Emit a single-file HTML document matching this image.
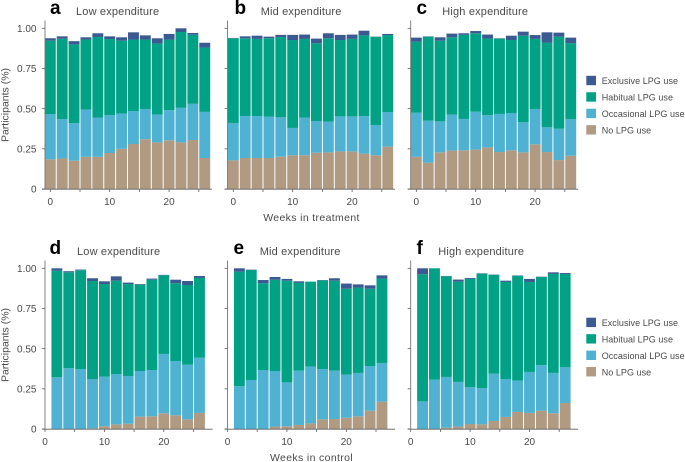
<!DOCTYPE html>
<html lang="en">
<head>
<meta charset="utf-8">
<title>LPG use by expenditure group</title>
<style>
html,body{margin:0;padding:0;background:#fff;width:685px;height:462px;overflow:hidden}
svg{display:block}
text{font-family:"Liberation Sans",sans-serif;fill:#4a4a4a}
</style>
</head>
<body>
<svg id="chart" width="685" height="462" viewBox="0 0 685 462" xmlns="http://www.w3.org/2000/svg"></svg>
<script>
const yTicks = [0, 0.25, 0.5, 0.75, 1];
const yTickLabels = ['0', '0.25', '0.50', '0.75', '1.00'];
const xTicks = [0, 5, 10, 15, 20, 25];
const xTickLabels = [0, 10, 20];
const seriesNames = ['No LPG use', 'Occasional LPG use', 'Habitual LPG use', 'Exclusive LPG use'];
const legendOrder = ['Exclusive LPG use', 'Habitual LPG use', 'Occasional LPG use', 'No LPG use'];

const treatmentWeeks = [0, 2, 4, 6, 8, 10, 12, 14, 16, 18, 20, 22, 24, 26];
const controlWeeks = [2, 4, 6, 8, 10, 12, 14, 16, 18, 20, 22, 24, 26];

const aNone = [.185,.19,.176,.2,.2,.224,.25,.28,.31,.29,.303,.29,.305,.193];
const aOccasional = [.28,.245,.234,.295,.245,.236,.22,.205,.188,.173,.187,.215,.225,.287];
const aHabitual = [.458,.5,.49,.435,.501,.473,.453,.445,.432,.443,.44,.472,.43,.4];
const aExclusive = [.015,.015,.02,.014,.023,.017,.021,.045,.026,.032,.035,.023,.011,.03];

const bNone = [.178,.193,.193,.193,.201,.21,.21,.226,.228,.234,.234,.22,.21,.263];
const bOccasional = [.233,.261,.261,.257,.245,.17,.234,.197,.191,.218,.218,.234,.188,.216];
const bHabitual = [.527,.484,.48,.488,.5,.547,.49,.484,.519,.475,.482,.502,.548,.479];
const bExclusive = [.002,.012,.02,.01,.013,.032,.027,.029,.031,.032,.027,.029,.002,.007];

const cNone = [.2,.164,.228,.239,.241,.245,.259,.23,.241,.228,.278,.23,.18,.207];
const cOccasional = [.275,.261,.193,.224,.195,.236,.2,.237,.232,.187,.22,.154,.195,.227];
const cHabitual = [.442,.523,.502,.481,.523,.488,.477,.469,.454,.539,.436,.527,.573,.474];
const cExclusive = [.025,.002,.021,.023,.01,.014,.025,.002,.027,.025,.024,.064,.025,.034];

const dNone = [0,0,0,.004,.017,.029,.033,.077,.079,.098,.085,.06,.1];
const dOccasional = [.322,.378,.373,.307,.309,.313,.297,.284,.288,.369,.338,.34,.344];
const dHabitual = [.663,.597,.615,.61,.576,.581,.572,.537,.562,.489,.484,.496,.496];
const dExclusive = [.015,.007,.004,.017,.017,.027,.009,.004,.007,.003,.022,.025,.012];

const eNone = [0,0,0,.015,.017,.025,.035,.06,.062,.07,.079,.114,.17];
const eOccasional = [.266,.305,.367,.346,.273,.338,.353,.313,.301,.268,.27,.278,.241];
const eHabitual = [.713,.685,.54,.568,.633,.546,.529,.552,.56,.535,.531,.481,.525];
const eExclusive = [.021,.002,.02,.017,.011,.01,0,.002,.015,.032,.02,.021,.02];

const fNone = [0,0,.008,.015,.031,.029,.05,.075,.106,.1,.114,.098,.162];
const fOccasional = [.172,.307,.316,.278,.23,.226,.294,.236,.195,.255,.284,.251,.222];
const fHabitual = [.791,.693,.626,.624,.673,.712,.615,.604,.653,.56,.548,.616,.581];
const fExclusive = [.037,0,.002,.013,.006,.002,.002,.008,.002,.019,.002,.01,.006];

const colors = {'No LPG use':'#b09a82','Occasional LPG use':'#4fb2d2','Habitual LPG use':'#00a184','Exclusive LPG use':'#3c5a92'};
const NS = 'http://www.w3.org/2000/svg';
const svg = document.getElementById('chart');

function make(parent, tag, attrs, txt){
  const n = document.createElementNS(NS, tag);
  for (const k in attrs) n.setAttribute(k, attrs[k]);
  if (txt !== undefined) n.textContent = txt;
  parent.appendChild(n);
  return n;
}

const UNIT = 5.94, BAR_W = 10.9, Y_SCALE = 160.7;

function drawPanel(p){
  const g = make(svg, 'g', {});
  
  
  const xScale = w => p.x0 + UNIT * w;
  const yScale = v => p.y0 - Y_SCALE * v;

  const letter = make(g, 'text', {x:p.letterX, y:p.y0 - 175, 'font-size':19, 'font-weight':'bold', style:'fill:#000'}, p.letter);
  
  
  const title = make(g, 'text', {x:p.titleX, y:p.y0 - 174, 'font-size':11, 'letter-spacing':0.17}, p.title);
  
  

  p.weeks.forEach((w, i) => {
    let base = 0;
    p.series.forEach((values, s) => {
      const v = values[i];
      if (v > 0) {
        const r = make(g, 'rect', {x:xScale(w) - BAR_W / 2, y:yScale(base + v), width:BAR_W, height:Y_SCALE * v, fill:colors[seriesNames[s]]});
        
        
      }
      base += v;
    });
  });

  const yAxis = make(g, 'line', {x1:p.axisX, x2:p.axisX, y1:p.y0 - 168.5, y2:p.y0 + 0.5, stroke:'#7a7672', 'stroke-width':0.9});
  
  
  const xAxis = make(g, 'line', {x1:p.axisX - 3, x2:p.axisEnd, y1:p.y0 + 0.2, y2:p.y0 + 0.2, stroke:'#5f5f5f', 'stroke-width':0.9});
  
  

  yTicks.forEach((t, i) => {
    const tk = make(g, 'line', {x1:p.axisX - 3, x2:p.axisX, y1:yScale(t), y2:yScale(t), stroke:'#5f5f5f', 'stroke-width':0.8});
    
    
    if (p.showY) {
      const lb = make(g, 'text', {x:36.5, y:yScale(t) + 3.6, 'text-anchor':'end', 'font-size':10}, yTickLabels[i]);
      
      
    }
  });
  xTicks.forEach(t => {
    const tk = make(g, 'line', {x1:xScale(t), x2:xScale(t), y1:p.y0, y2:p.y0 + 3, stroke:'#5f5f5f', 'stroke-width':0.8});
    
    
  });
  xTickLabels.forEach(t => {
    const lb = make(g, 'text', {x:xScale(t), y:p.y0 + 16, 'text-anchor':'middle', 'font-size':10}, String(t));
    
    
  });
}

const panels = [
  {letter:'a', title:'Low expenditure', x0:50.3, axisX:45, axisEnd:212, y0:189, letterX:50, titleX:76, showY:true, weeks:treatmentWeeks, series:[aNone,aOccasional,aHabitual,aExclusive]},
  {letter:'b', title:'Mid expenditure', x0:233.3, axisX:227.5, axisEnd:395, y0:189, letterX:234.5, titleX:260.7, showY:false, weeks:treatmentWeeks, series:[bNone,bOccasional,bHabitual,bExclusive]},
  {letter:'c', title:'High expenditure', x0:416.3, axisX:410.7, axisEnd:578, y0:189, letterX:416.5, titleX:442.3, showY:false, weeks:treatmentWeeks, series:[cNone,cOccasional,cHabitual,cExclusive]},
  {letter:'d', title:'Low expenditure', x0:45, axisX:45, axisEnd:212.5, y0:429, letterX:49.5, titleX:77, showY:true, weeks:controlWeeks, series:[dNone,dOccasional,dHabitual,dExclusive]},
  {letter:'e', title:'Mid expenditure', x0:227.5, axisX:227.5, axisEnd:395, y0:429, letterX:233.5, titleX:259.7, showY:false, weeks:controlWeeks, series:[eNone,eOccasional,eHabitual,eExclusive]},
  {letter:'f', title:'High expenditure', x0:410.7, axisX:410.7, axisEnd:578, y0:429, letterX:416.5, titleX:438.3, showY:false, weeks:controlWeeks, series:[fNone,fOccasional,fHabitual,fExclusive]}
];
panels.forEach(drawPanel);

function drawLegend(top, suffix){
  const g = make(svg, 'g', {});
  
  
  legendOrder.forEach((name, i) => {
    const y = top + i * 16.45;
    const sw = make(g, 'rect', {x:586.3, y:y, width:9.7, height:9.4, fill:colors[name]});
    
    
    const tx = make(g, 'text', {x:601.7, y:y + 8.2, 'font-size':9, 'letter-spacing':0.05}, name);
    
    
  });
}
drawLegend(75.8, 'treatment');
drawLegend(317.7, 'control');

const yTitleTop = make(svg, 'text', {transform:'translate(8.5,105) rotate(-90)', 'text-anchor':'middle', 'font-size':10.5}, 'Participants (%)');


const yTitleBottom = make(svg, 'text', {transform:'translate(8.5,345) rotate(-90)', 'text-anchor':'middle', 'font-size':10.5}, 'Participants (%)');


const xTitleTop = make(svg, 'text', {x:311.5, y:221, 'text-anchor':'middle', 'font-size':10.5, 'letter-spacing':0.35}, 'Weeks in treatment');


const xTitleBottom = make(svg, 'text', {x:311.5, y:461, 'text-anchor':'middle', 'font-size':10.5, 'letter-spacing':0.35}, 'Weeks in control');


</script>
</body>
</html>
